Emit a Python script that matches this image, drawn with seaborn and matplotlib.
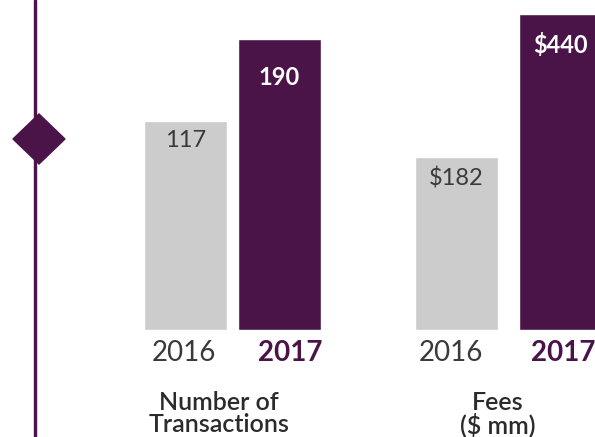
import numpy as np
import pandas as pd
import matplotlib
matplotlib.use("Agg")
import matplotlib.pyplot as plt
import matplotlib.transforms as mtransforms
import seaborn as sns
from matplotlib.patches import Polygon, Rectangle

# ---- data ----
years = ["2016", "2017"]
transactions = [117, 190]
fees = [182, 440]
trans_labels = ["117", "190"]
fee_labels = ["$182", "$440"]
panel_titles = [["Number of", "Transactions"], ["Fees", "($ mm)"]]

PURPLE = "#4a1449"
GRAY = "#cccccc"
TEXT = "#3a3a3a"
FONT = ["Lato", "DejaVu Sans"]

sns.set_theme(style="white")
plt.rcParams["font.family"] = FONT

W, H = 595, 437
fig = plt.figure(figsize=(W / 100, H / 100), dpi=100)

P = 0.68
fwd = lambda y: np.sign(y) * np.abs(y) ** P
inv = lambda y: np.sign(y) * np.abs(y) ** (1 / P)

def px(x0, y0, w, h):
    return [x0 / W, 1 - (y0 + h) / H, w / W, h / H]

panels = [
    dict(vals=transactions, labels=trans_labels, rect=px(138.5, 0, 188, 330), top_px=291,
         offs=[-20, -38], title_x=219, tick_dx=[-2, 11]),
    dict(vals=fees, labels=fee_labels, rect=px(404.5, 0, 208, 330), top_px=316,
         offs=[-22, -31], title_x=498, tick_dx=[-6, 3]),
]

for k, p in enumerate(panels):
    ax = fig.add_axes(p["rect"])
    df = pd.DataFrame({"year": years, "value": p["vals"]})
    width = 83 / (p["rect"][2] * W / 2)
    sns.barplot(data=df, x="year", y="value", hue="year", palette=[GRAY, PURPLE],
                width=width, saturation=1, legend=False, ax=ax)
    ax.set_yscale("function", functions=(fwd, inv))
    ymax = max(p["vals"])
    ax.set_ylim(0, inv(fwd(ymax) * 330 / p["top_px"]))
    ax.set_xlim(-0.5, 1.5)
    for s in ax.spines.values():
        s.set_visible(False)
    ax.set_yticks([])
    ax.set_xlabel("")
    ax.set_ylabel("")
    ax.tick_params(axis="x", length=0, pad=7)
    ax.set_xticks([0, 1])
    ax.set_xticklabels(years)
    tl = ax.get_xticklabels()
    tl[0].set_color(TEXT); tl[0].set_fontsize(20); tl[0].set_fontweight("normal")
    tl[1].set_color(PURPLE); tl[1].set_fontsize(20); tl[1].set_fontweight("bold")
    for i, lab in enumerate(tl):
        lab.set_transform(lab.get_transform() +
                          mtransforms.Affine2D().translate(p["tick_dx"][i], 0))
    for i, (v, lab) in enumerate(zip(p["vals"], p["labels"])):
        ax.annotate(lab, (i, v), xytext=(0, p["offs"][i]), textcoords="offset pixels",
                    ha="center", va="center", fontsize=17,
                    color=TEXT if i == 0 else "white",
                    fontweight="normal" if i == 0 else "bold")
    for j, line in enumerate(panel_titles[k]):
        fig.text(p["title_x"] / W, 1 - (402 + 23 * j) / H, line, ha="center", va="center",
                 fontsize=18, color="#2b2b2b", fontweight="semibold")

# decorative timeline and diamond
fig.patches.append(Rectangle((33.5 / W, 0), 2 / W, 1, transform=fig.transFigure,
                             color=PURPLE, zorder=0))
cx, cy, hw, hh = 39, 139, 26, 25
fig.patches.append(Polygon([((cx - hw) / W, 1 - cy / H), (cx / W, 1 - (cy - hh) / H),
                            ((cx + hw) / W, 1 - cy / H), (cx / W, 1 - (cy + hh) / H)],
                           closed=True, transform=fig.transFigure, color=PURPLE, zorder=1))

fig.savefig("out.png", dpi=100)
